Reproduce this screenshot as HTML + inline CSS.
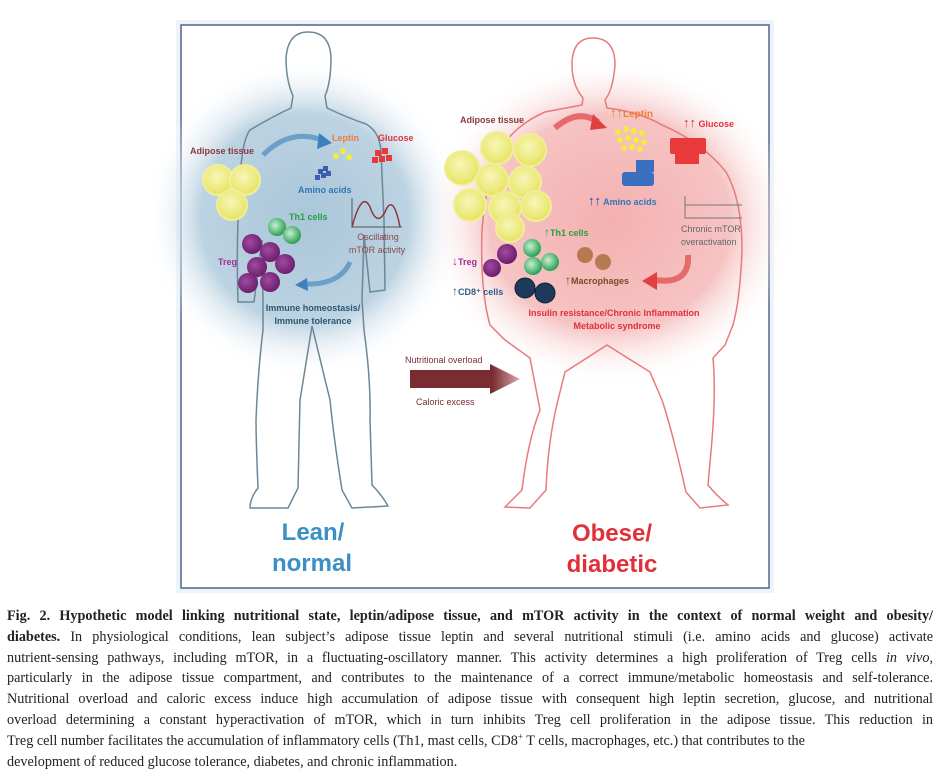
<!DOCTYPE html>
<html><head><meta charset="utf-8"><style>
body{margin:0;width:945px;height:770px;background:#fff;position:relative;overflow:hidden;font-family:"Liberation Sans",sans-serif}
.cap{position:absolute;left:7px;width:926px;font-family:"Liberation Serif",serif;font-size:14.2px;color:#222;white-space:nowrap;line-height:20.8px;top:606px}
.cap div{text-align:justify;text-align-last:justify}
.cap div.l{text-align-last:left}
</style></head><body>
<svg width="945" height="600" style="position:absolute;left:0;top:0" font-family="Liberation Sans, sans-serif">
<defs>
<radialGradient id="bg1" cx="0.5" cy="0.5" r="0.5"><stop offset="0" stop-color="#a9c6d9"/><stop offset="0.65" stop-color="#bcd3e2"/><stop offset="1" stop-color="#fff" stop-opacity="0"/></radialGradient>
<radialGradient id="bg2" cx="0.5" cy="0.5" r="0.5"><stop offset="0" stop-color="#f4b0b0"/><stop offset="0.65" stop-color="#f6c3c3"/><stop offset="1" stop-color="#fff" stop-opacity="0"/></radialGradient>
<radialGradient id="ye" cx="0.45" cy="0.4" r="0.6"><stop offset="0" stop-color="#f8f6b8"/><stop offset="0.7" stop-color="#ecea7c"/><stop offset="1" stop-color="#e6e25a"/></radialGradient>
<radialGradient id="pu" cx="0.4" cy="0.4" r="0.6"><stop offset="0" stop-color="#a04aa0"/><stop offset="1" stop-color="#6d1f6d"/></radialGradient>
<radialGradient id="gr" cx="0.4" cy="0.4" r="0.6"><stop offset="0" stop-color="#c9efd2"/><stop offset="1" stop-color="#2aa155"/></radialGradient>
<linearGradient id="ar" x1="0" x2="1"><stop offset="0.75" stop-color="#7a2c33"/><stop offset="1" stop-color="#d8a8ab"/></linearGradient>
</defs>
<rect x="176" y="20" width="598" height="573" fill="#eef3f6"/>
<rect x="181" y="25" width="588" height="563" fill="#fff" stroke="#4f6590" stroke-width="1.5"/>
<ellipse cx="305" cy="218" rx="160" ry="160" fill="url(#bg1)"/>
<ellipse cx="610" cy="222" rx="185" ry="165" fill="url(#bg2)"/>
<!-- lean body -->
<path d="M308 32 Q330 32 331 58 Q331 82 325 96 L327 108 Q348 118 366 124 Q380 132 381 152 L384 220 L385 290 L370 292 L364 235 L362 300 L364 330 Q371 380 370 420 L372 485 Q382 495 388 506 L352 508 L342 490 Q334 440 330 400 L312 326 L300 400 L298 488 L288 508 L250 508 Q250 498 258 488 Q256 440 256 420 Q258 370 263 330 L263 300 L262 240 L254 302 L238 302 Q236 240 240 180 Q242 140 250 130 Q270 118 291 108 L293 96 Q286 80 286 58 Q288 32 308 32 Z" fill="none" stroke="#6d8796" stroke-width="1.5"/>
<!-- obese body -->
<path d="M593 38 Q615 38 615 65 Q613 90 605 100 L607 108 Q640 112 662 125 Q702 142 726 172 Q742 200 742 250 Q740 300 733 325 L725 345 L713 358 Q716 390 712 440 L708 485 Q716 495 728 505 L700 508 L686 492 Q672 430 662 400 L650 372 L607 345 L565 372 L558 400 Q548 440 546 490 L530 508 L505 507 L522 490 Q528 440 540 410 L530 358 L505 340 L490 325 Q480 290 482 230 Q486 180 500 150 Q515 125 545 112 L582 105 L583 98 Q572 85 572 65 Q572 38 593 38 Z" fill="none" stroke="#e67b7b" stroke-width="1.5"/>
<!-- left content -->
<text x="190" y="154" font-size="9" font-weight="bold" fill="#8a3a3a">Adipose tissue</text>
<g stroke="#f0ee9a" stroke-width="2"><circle cx="218" cy="180" r="15" fill="url(#ye)"/><circle cx="245" cy="180" r="15" fill="url(#ye)"/><circle cx="232" cy="205" r="15" fill="url(#ye)"/></g>
<path d="M263 155 Q290 128 322 140" fill="none" stroke="#6a9fc8" stroke-width="5"/><path d="M319 133 L332 143 L317 149 Z" fill="#3d80bb"/>
<text x="332" y="141" font-size="9" font-weight="bold" fill="#ee7e3a">Leptin</text>
<text x="378" y="141" font-size="9" font-weight="bold" fill="#e03040">Glucose</text>
<g fill="#f2ec40"><circle cx="336" cy="156" r="3"/><circle cx="343" cy="151" r="3"/><circle cx="349" cy="157" r="3"/></g>
<g fill="#e83a3a"><rect x="375" y="150" width="6" height="6"/><rect x="382" y="148" width="6" height="6"/><rect x="379" y="156" width="6" height="6"/><rect x="386" y="155" width="6" height="6"/><rect x="372" y="157" width="6" height="6"/></g>
<g fill="#3a5fb0"><rect x="318" y="169" width="5" height="5"/><rect x="323" y="166" width="5" height="5"/><rect x="315" y="175" width="5" height="5"/><rect x="321" y="173" width="5" height="5"/><rect x="326" y="171" width="5" height="5"/></g>
<text x="298" y="193" font-size="9" font-weight="bold" fill="#2f76b6">Amino acids</text>
<path d="M352 198 L352 227 L402 227" fill="none" stroke="#555" stroke-width="1"/>
<path d="M352 227 Q362 190 370 207 Q377 227 385 212 Q393 192 400 227" fill="none" stroke="#8a3a3a" stroke-width="1.5"/>
<text x="378" y="240" font-size="9" fill="#8a4a4a" text-anchor="middle">Oscillating</text>
<text x="377" y="253" font-size="9" fill="#8a4a4a" text-anchor="middle">mTOR activity</text>
<text x="289" y="220" font-size="9" font-weight="bold" fill="#27a040">Th1 cells</text>
<circle cx="277" cy="227" r="9" fill="url(#gr)"/><circle cx="292" cy="235" r="9" fill="url(#gr)"/>
<text x="218" y="265" font-size="9" font-weight="bold" fill="#a03090">Treg</text>
<g fill="url(#pu)"><circle cx="252" cy="244" r="10"/><circle cx="270" cy="252" r="10"/><circle cx="285" cy="264" r="10"/><circle cx="257" cy="267" r="10"/><circle cx="270" cy="282" r="10"/><circle cx="248" cy="283" r="10"/></g>
<path d="M350 262 Q340 285 305 284" fill="none" stroke="#6a9fc8" stroke-width="5"/><path d="M307 278 L295 285 L308 291 Z" fill="#3d80bb"/>
<text x="313" y="311" font-size="9" font-weight="bold" fill="#2e5570" text-anchor="middle">Immune homeostasis/</text>
<text x="313" y="324" font-size="9" font-weight="bold" fill="#2e5570" text-anchor="middle">Immune tolerance</text>
<!-- right -->
<text x="460" y="123" font-size="9" font-weight="bold" fill="#8a3a3a">Adipose tissue</text>
<g stroke="#f0ee9a" stroke-width="2" fill="url(#ye)"><circle cx="462" cy="168" r="17"/><circle cx="497" cy="148" r="16"/><circle cx="530" cy="150" r="16"/><circle cx="492" cy="180" r="16"/><circle cx="525" cy="182" r="16"/><circle cx="470" cy="205" r="16"/><circle cx="505" cy="208" r="16"/><circle cx="536" cy="206" r="15"/><circle cx="510" cy="228" r="14"/></g>
<path d="M555 128 Q578 108 598 122" fill="none" stroke="#e66a6a" stroke-width="6"/><path d="M593 114 L607 128 L590 130 Z" fill="#e04040"/>
<text x="610" y="117" font-size="10" font-weight="bold" fill="#ee7e3a"><tspan font-size="13">↑↑</tspan>Leptin</text>
<text x="683" y="127" font-size="9" font-weight="bold" fill="#e03040"><tspan font-size="13">↑↑</tspan> Glucose</text>
<g fill="#f2ec40"><circle cx="618" cy="132" r="3"/><circle cx="626" cy="129" r="3"/><circle cx="634" cy="131" r="3"/><circle cx="642" cy="133" r="3"/><circle cx="620" cy="140" r="3"/><circle cx="628" cy="138" r="3"/><circle cx="636" cy="140" r="3"/><circle cx="644" cy="142" r="3"/><circle cx="624" cy="148" r="3"/><circle cx="632" cy="147" r="3"/><circle cx="640" cy="149" r="3"/></g>
<g fill="#e83a3a"><rect x="670" y="138" width="36" height="16" rx="2"/><rect x="675" y="154" width="24" height="10"/></g>
<g fill="#3a6fc0"><rect x="622" y="172" width="32" height="14" rx="3"/><rect x="636" y="160" width="18" height="12"/></g>
<text x="588" y="205" font-size="9" font-weight="bold" fill="#2f76b6"><tspan font-size="13" fill="#2050a0">↑↑</tspan> Amino acids</text>
<path d="M685 196 L685 218 L742 218 M685 205 L742 205" fill="none" stroke="#777" stroke-width="1"/>
<text x="681" y="232" font-size="9" fill="#666">Chronic mTOR</text>
<text x="681" y="245" font-size="9" fill="#666">overactivation</text>
<text x="544" y="236" font-size="9" font-weight="bold" fill="#27a040"><tspan font-size="12">↑</tspan>Th1 cells</text>
<g fill="url(#gr)"><circle cx="532" cy="248" r="9"/><circle cx="550" cy="262" r="9"/><circle cx="533" cy="266" r="9"/></g>
<text x="452" y="265" font-size="9" font-weight="bold" fill="#a03090"><tspan font-size="12">↓</tspan>Treg</text>
<g fill="url(#pu)"><circle cx="507" cy="254" r="10"/><circle cx="492" cy="268" r="9"/></g>
<text x="452" y="295" font-size="9" font-weight="bold" fill="#2e5f8a"><tspan font-size="12">↑</tspan>CD8⁺ cells</text>
<g fill="#1e3a5a" stroke="#0c1f33"><circle cx="525" cy="288" r="10"/><circle cx="545" cy="293" r="10"/></g>
<g fill="#b77a50"><circle cx="585" cy="255" r="8"/><circle cx="603" cy="262" r="8"/></g>
<text x="565" y="284" font-size="9" font-weight="bold" fill="#7a4a2a"><tspan font-size="12">↑</tspan>Macrophages</text>
<path d="M688 255 Q690 285 655 280" fill="none" stroke="#e66a6a" stroke-width="6"/><path d="M657 272 L642 281 L657 290 Z" fill="#e04040"/>
<text x="614" y="316" font-size="9" font-weight="bold" fill="#e03040" text-anchor="middle">Insulin resistance/Chronic Inflammation</text>
<text x="617" y="329" font-size="9" font-weight="bold" fill="#e03040" text-anchor="middle">Metabolic syndrome</text>
<!-- middle arrow -->
<text x="405" y="363" font-size="9" fill="#7a2c33">Nutritional overload</text>
<path d="M410 370 L490 370 L490 364 L520 379 L490 394 L490 388 L410 388 Z" fill="url(#ar)"/>
<text x="416" y="405" font-size="9" fill="#7a2c33">Caloric excess</text>
<text x="313" y="540" font-size="24" font-weight="bold" fill="#3a8fc4" text-anchor="middle">Lean/</text>
<text x="312" y="571" font-size="24" font-weight="bold" fill="#3a8fc4" text-anchor="middle">normal</text>
<text x="612" y="541" font-size="24" font-weight="bold" fill="#e0303a" text-anchor="middle">Obese/</text>
<text x="612" y="572" font-size="24" font-weight="bold" fill="#e0303a" text-anchor="middle">diabetic</text>
</svg>
<div class="cap">
<div><b>Fig. 2. Hypothetic model linking nutritional state, leptin/adipose tissue, and mTOR activity in the context of normal weight and obesity/</b></div>
<div><b>diabetes.</b> In physiological conditions, lean subject’s adipose tissue leptin and several nutritional stimuli (i.e. amino acids and glucose) activate</div>
<div>nutrient-sensing pathways, including mTOR, in a fluctuating-oscillatory manner. This activity determines a high proliferation of Treg cells <i>in vivo</i>,</div>
<div>particularly in the adipose tissue compartment, and contributes to the maintenance of a correct immune/metabolic homeostasis and self-tolerance.</div>
<div>Nutritional overload and caloric excess induce high accumulation of adipose tissue with consequent high leptin secretion, glucose, and nutritional</div>
<div>overload determining a constant hyperactivation of mTOR, which in turn inhibits Treg cell proliferation in the adipose tissue. This reduction in</div>
<div class="l">Treg cell number facilitates the accumulation of inflammatory cells (Th1, mast cells, CD8<sup style="font-size:9px;line-height:0">+</sup> T cells, macrophages, etc.) that contributes to the</div>
<div class="l">development of reduced glucose tolerance, diabetes, and chronic inflammation.</div>
</div>
</body></html>
